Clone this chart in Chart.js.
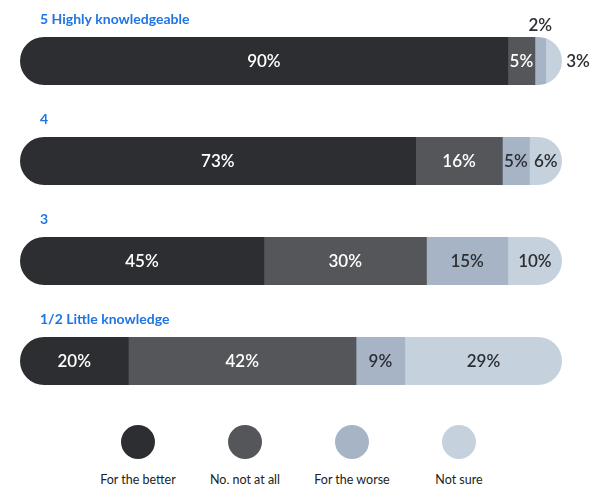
<!DOCTYPE html>
<html>
<head>
<meta charset="utf-8">
<script src="https://cdn.jsdelivr.net/npm/chart.js@4"></script>
<style>
  html, body { margin: 0; padding: 0; background: #fff; }
  body { width: 597px; height: 484px; position: relative; overflow: hidden; font-family: 'Lato', sans-serif; }
  #chart { position: absolute; left: 0; top: 0; }
  .legend { position: absolute; left: 0; top: 425px; width: 597px; display: flex; justify-content: center; }
  .legend-item { width: 107px; display: flex; flex-direction: column; align-items: center; }
  .legend-item .dot { width: 34px; height: 34px; border-radius: 50%; }
  .legend-item .txt { margin-top: 13px; font-size: 12.5px; color: #222; white-space: nowrap; line-height: 16px; }
</style>
</head>
<body>
<canvas id="chart" width="597" height="411"></canvas>
<div class="legend" id="legend"></div>
<script>
// Knowledge level vs. opinion, stacked percentages per row

const categorias = ['5 Highly knowledgeable', '4', '3', '1/2 Little knowledge'];
const series = ['For the better', 'No, not at all', 'For the worse', 'Not sure'];

const paraMelhor = [90, 73, 45, 20];
const naoNada = [5, 16, 30, 42];
const paraPior = [2, 5, 15, 9];
const naoSei = [3, 6, 10, 29];

const CORES = ['#2d2e32', '#55565a', '#a6b4c6', '#c5d2de'];
const CORES_TEXTO = ['#ffffff', '#ffffff', '#2d2e32', '#2d2e32'];
const AZUL = '#1f74e6';
const FONTE_VALOR = "600 17px 'Lato', sans-serif";
const FONTE_CATEGORIA = "700 14px 'Lato', sans-serif";

// each row is clipped to one pill shape so only the outer ends are rounded
const pilulas = {
  id: 'pilulas',
  beforeDatasetsDraw(chart) {
    const { ctx, scales: { x, y } } = chart;
    const meta = chart.getDatasetMeta(0);
    ctx.save();
    ctx.beginPath();
    categorias.forEach((_, i) => {
      const total = chart.data.datasets.reduce((s, d) => s + d.data[i], 0);
      const h = meta.data[i].height;
      const cy = y.getPixelForValue(i);
      const x0 = x.getPixelForValue(0);
      const x1 = x.getPixelForValue(total);
      ctx.roundRect(x0, cy - h / 2, x1 - x0, h, h / 2);
    });
    ctx.clip();
  },
  afterDatasetsDraw(chart) {
    chart.ctx.restore();
  },
};

// category titles above the bars and the percentage labels
const rotulos = {
  id: 'rotulos',
  afterDatasetsDraw(chart) {
    const { ctx, scales: { x, y } } = chart;
    const meta0 = chart.getDatasetMeta(0);
    ctx.save();

    ctx.font = FONTE_CATEGORIA;
    ctx.fillStyle = AZUL;
    ctx.textAlign = 'left';
    ctx.textBaseline = 'alphabetic';
    categorias.forEach((c, i) => {
      const bar = meta0.data[i];
      ctx.fillText(c, x.getPixelForValue(0) + 20, bar.y - bar.height / 2 - 13);
    });

    ctx.font = FONTE_VALOR;
    ctx.textAlign = 'center';
    ctx.textBaseline = 'middle';
    const nSeries = chart.data.datasets.length;
    chart.data.datasets.forEach((ds, di) => {
      const meta = chart.getDatasetMeta(di);
      meta.data.forEach((bar, i) => {
        const texto = ds.data[i] + '%';
        const largura = Math.abs(bar.x - bar.base);
        const centro = (bar.x + bar.base) / 2;
        if (largura >= 20) {
          ctx.fillStyle = CORES_TEXTO[di];
          ctx.fillText(texto, centro, bar.y + 1);
        } else if (di === nSeries - 1) {
          ctx.fillStyle = '#2d2e32';
          ctx.fillText(texto, bar.x + 16, bar.y + 1);
        } else {
          ctx.fillStyle = '#2d2e32';
          ctx.fillText(texto, centro, bar.y - bar.height / 2 - 11);
        }
      });
    });
    ctx.restore();
  },
};

const valores = [paraMelhor, naoNada, paraPior, naoSei];

new Chart(document.getElementById('chart'), {
  type: 'bar',
  data: {
    labels: categorias,
    datasets: series.map((nome, i) => ({
      label: nome,
      data: valores[i],
      backgroundColor: CORES[i],
      borderWidth: 0,
      barThickness: 48,
    })),
  },
  options: {
    indexAxis: 'y',
    responsive: false,
    animation: false,
    layout: { padding: { left: 20, right: 35, top: 11, bottom: 0 } },
    plugins: { legend: { display: false }, tooltip: { enabled: false } },
    scales: {
      x: { stacked: true, min: 0, max: 100, display: false },
      y: { stacked: true, display: false },
    },
  },
  plugins: [pilulas, rotulos],
});

document.getElementById('legend').innerHTML = series.map((nome, i) => `
  <div class="legend-item">
    <div class="dot" style="background:${CORES[i]}"></div>
    <div class="txt">${nome}</div>
  </div>
`).join('');
</script>
</body>
</html>
